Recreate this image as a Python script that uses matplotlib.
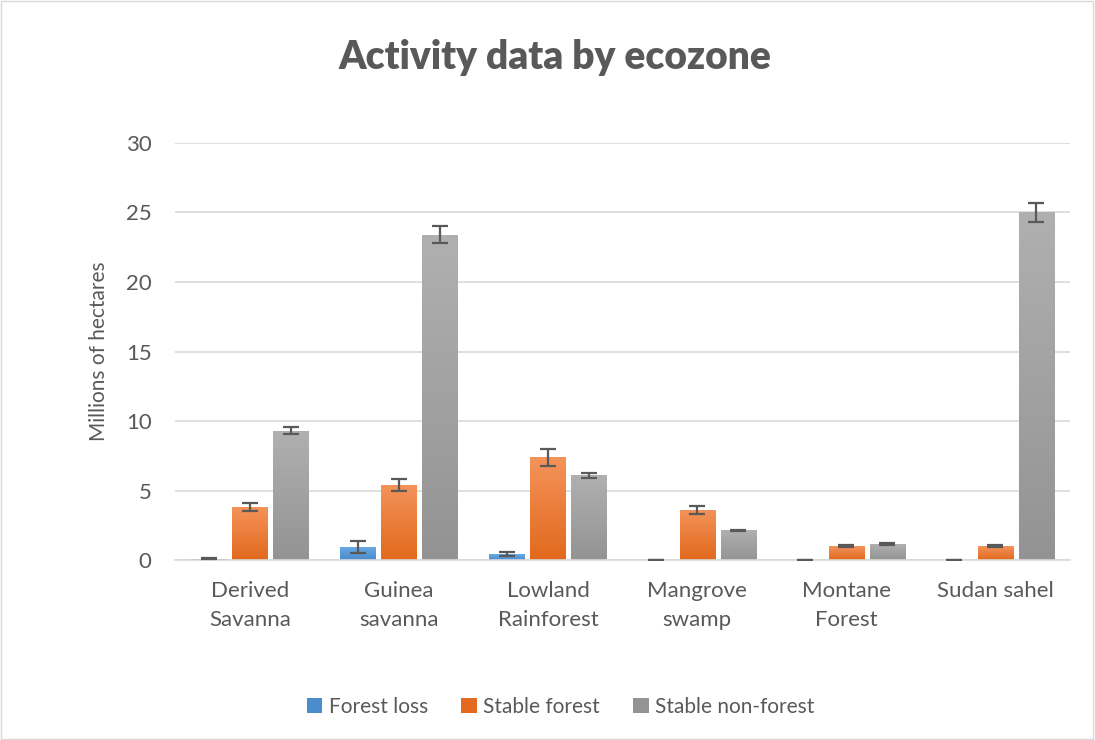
import numpy as np
import matplotlib
matplotlib.use("Agg")
import matplotlib.pyplot as plt
from matplotlib.colors import LinearSegmentedColormap

plt.rcParams["font.family"] = ["Lato", "DejaVu Sans"]

# ---------------------------------------------------------------- data ---
ecozones = ["Derived\nSavanna", "Guinea\nsavanna", "Lowland\nRainforest",
            "Mangrove\nswamp", "Montane\nForest", "Sudan sahel"]
series = ["Forest loss", "Stable forest", "Stable non-forest"]

forest_loss = [0.12, 0.95, 0.43, 0.03, 0.01, 0.03]
stable_forest = [3.8, 5.4, 7.4, 3.6, 1.0, 1.0]
stable_nonforest = [9.3, 23.4, 6.1, 2.15, 1.15, 25.0]

err_loss = [0.03, 0.4, 0.15, 0.01, 0.0, 0.01]
err_forest = [0.3, 0.45, 0.6, 0.3, 0.07, 0.07]
err_nonforest = [0.25, 0.6, 0.2, 0.05, 0.05, 0.7]

yticks = [0, 5, 10, 15, 20, 25, 30]

# colours (top, bottom) for the Office-style vertical gradient
GRAD = [("#6AAAE4", "#4A8CCC"),
        ("#F4935A", "#E2691D"),
        ("#B0B0B0", "#939393")]
TEXT = "#595959"
GRID = "#D9D9D9"

# -------------------------------------------------------------- figure ---
fig = plt.figure(figsize=(10.95, 7.4), dpi=100)
fig.patches.append(plt.Rectangle((0.001, 0.001), 0.997, 0.997, transform=fig.transFigure,
                                 fill=False, edgecolor="#D9D9D9", lw=1))
ax = fig.add_axes([0.160, 0.243, 0.817, 0.564])

x = np.arange(len(ecozones))
width = 0.235
step = 0.275
values = [forest_loss, stable_forest, stable_nonforest]
errors = [err_loss, err_forest, err_nonforest]

grad = np.linspace(0, 1, 256).reshape(-1, 1)
for i, (vals, errs, name, (top, bot)) in enumerate(zip(values, errors, series, GRAD)):
    pos = x + (i - 1) * step
    bars = ax.bar(pos, vals, width, color=bot, label=name, zorder=2)
    cmap = LinearSegmentedColormap.from_list("g%d" % i, [top, bot])
    for b in bars:
        h = b.get_height()
        if h <= 0:
            continue
        im = ax.imshow(grad, cmap=cmap, aspect="auto", zorder=2.5, origin="upper",
                       extent=(b.get_x(), b.get_x() + b.get_width(), 0, h))
        im.set_clip_path(b)
    ax.errorbar(pos, vals, yerr=errs, fmt="none", ecolor=TEXT, elinewidth=1.6,
                capsize=6, capthick=1.6, zorder=4)

ax.set_xlim(-0.5, len(ecozones) - 0.5)
ax.set_ylim(0, 30)
ax.set_yticks(yticks)
ax.set_xticks(x)
ax.set_xticklabels(ecozones, linespacing=1.55)
ax.grid(axis="y", color=GRID, lw=1.2, zorder=0)
ax.set_axisbelow(True)
for s in ["top", "right", "left"]:
    ax.spines[s].set_visible(False)
ax.spines["bottom"].set_color(GRID)
ax.spines["bottom"].set_linewidth(1.2)
ax.tick_params(axis="both", length=0, labelsize=16, colors=TEXT)
ax.tick_params(axis="x", pad=15)
ax.tick_params(axis="y", pad=17)
ax.set_ylabel("Millions of hectares", fontsize=15, color=TEXT, labelpad=12)

fig.text(0.507, 0.922, "Activity data by ecozone", ha="center", va="center",
         fontsize=28, fontweight="heavy", color=TEXT)

handles, labels = ax.get_legend_handles_labels()
fig.legend(handles, labels, loc="center", bbox_to_anchor=(0.512, 0.045), ncol=3,
           frameon=False, fontsize=15, labelcolor=TEXT, handlelength=0.75,
           handleheight=0.75, handletextpad=0.3, columnspacing=1.6)

fig.savefig("out.png", dpi=100)
